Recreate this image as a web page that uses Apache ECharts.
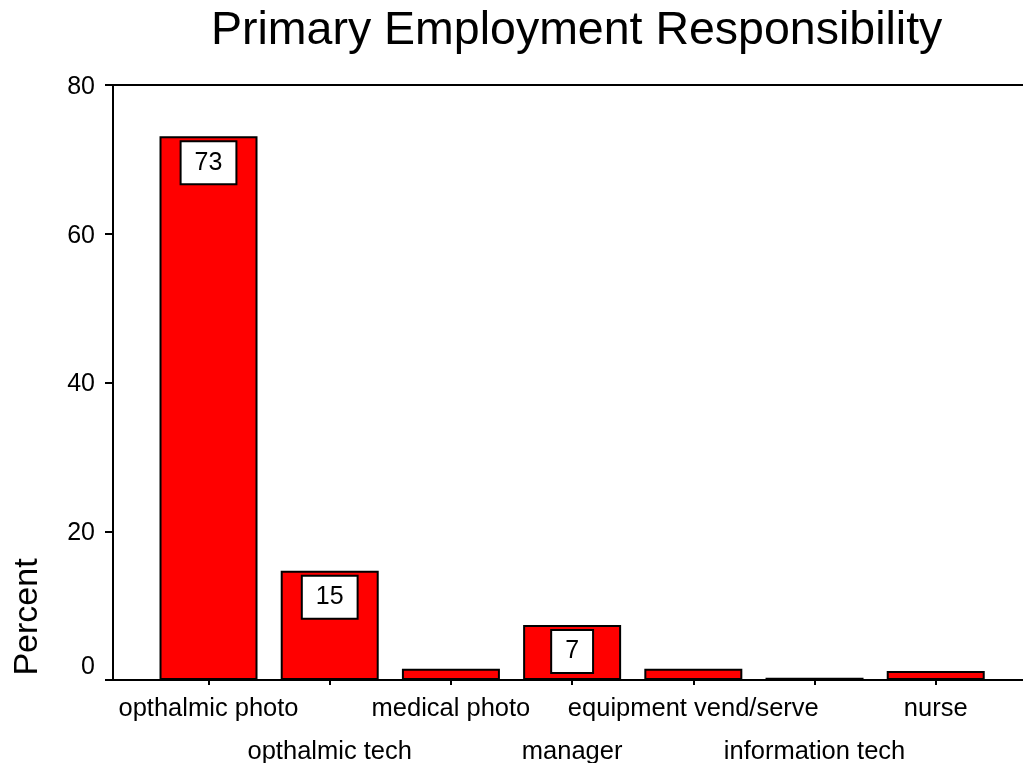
<!DOCTYPE html>
<html>
<head>
<meta charset="utf-8">
<title>Primary Employment Responsibility</title>
<script src="https://cdn.jsdelivr.net/npm/echarts@6/dist/echarts.min.js"></script>
<style>
  html, body { margin: 0; padding: 0; background: #fff; }
  #chart { width: 1023px; height: 763px; }
</style>
</head>
<body>
<div id="chart"></div>
<script>
// Survey categories and the share of respondents (percent) in each
const categories = [
  'opthalmic photo',
  'opthalmic tech',
  'medical photo',
  'manager',
  'equipment vend/serve',
  'information tech',
  'nurse'
];
const percents = [73.1, 14.7, 1.5, 7.4, 1.5, 0.3, 1.2];
const yTicks = [0, 20, 40, 60, 80];
const titleText = 'Primary Employment Responsibility';
const yAxisTitle = 'Percent';

const FONT = '"Liberation Sans", Arial, Helvetica, sans-serif';
const positions = categories.map((_, i) => i);

const barData = percents.map((v, i) => ({
  value: [i, v],
  label: { show: v >= 5 }
}));

const chart = echarts.init(document.getElementById('chart'), null, { renderer: 'canvas' });

chart.setOption({
  backgroundColor: '#fff',
  animation: false,
  title: {
    text: titleText,
    left: 206,
    top: 3,
    textStyle: { fontFamily: FONT, fontSize: 46.5, fontWeight: 'normal', color: '#000' }
  },
  // plot frame runs past the right edge of the canvas, so only its top,
  // left and bottom sides are visible
  grid: {
    left: 113,
    right: -8,
    top: 85,
    bottom: 83,
    outerBoundsMode: 'none',
    containLabel: false,
    show: true,
    borderColor: '#000',
    borderWidth: 2,
    backgroundColor: 'transparent'
  },
  xAxis: {
    type: 'value',
    min: -0.788,
    max: 6.786,
    splitLine: { show: false },
    axisLine: { show: true, onZero: false, lineStyle: { color: '#000', width: 2 } },
    axisTick: {
      show: true,
      length: 5,
      customValues: positions,
      lineStyle: { color: '#000', width: 2 }
    },
    axisLabel: {
      customValues: positions,
      margin: 16,
      fontFamily: FONT,
      fontSize: 25.5,
      color: '#000',
      formatter: function (v) {
        const i = Math.round(v);
        return i % 2 === 0 ? '{a|' + categories[i] + '}' : '{b|' + categories[i] + '}';
      },
      rich: {
        a: { fontFamily: FONT, fontSize: 25.5, color: '#000' },
        b: { fontFamily: FONT, fontSize: 25.5, color: '#000', padding: [43, 0, 0, 0] }
      }
    }
  },
  yAxis: {
    type: 'value',
    min: 0,
    max: 80,
    interval: 20,
    splitLine: { show: false },
    axisLine: { show: true, onZero: false, lineStyle: { color: '#000', width: 2 } },
    axisTick: { show: true, length: 8, lineStyle: { color: '#000', width: 2 } },
    axisLabel: {
      margin: 18,
      fontFamily: FONT,
      fontSize: 25,
      color: '#000',
      formatter: function (v) {
        return yTicks.indexOf(v) === 0 ? '{z|' + v + '}' : '{n|' + v + '}';
      },
      rich: {
        n: { fontFamily: FONT, fontSize: 25, color: '#000', padding: [0, 0, -4, 0] },
        z: { fontFamily: FONT, fontSize: 25, color: '#000', padding: [0, 0, 26, 0] }
      }
    }
  },
  graphic: [
    {
      type: 'text',
      x: 28,
      y: 617,
      rotation: Math.PI / 2,
      style: {
        text: yAxisTitle,
        font: '34px ' + FONT,
        fill: '#000',
        align: 'center',
        verticalAlign: 'middle'
      }
    }
  ],
  series: [
    {
      type: 'bar',
      data: barData,
      barWidth: 98,
      itemStyle: { color: '#ff0000', borderColor: '#000', borderWidth: 2 },
      label: {
        position: 'insideTop',
        distance: 6,
        formatter: function (p) { return String(Math.round(p.value[1])); },
        fontFamily: FONT,
        fontSize: 25,
        lineHeight: 25,
        color: '#000',
        backgroundColor: '#fff',
        borderColor: '#000',
        borderWidth: 2,
        padding: [8, 13]
      }
    }
  ]
});
</script>
</body>
</html>
